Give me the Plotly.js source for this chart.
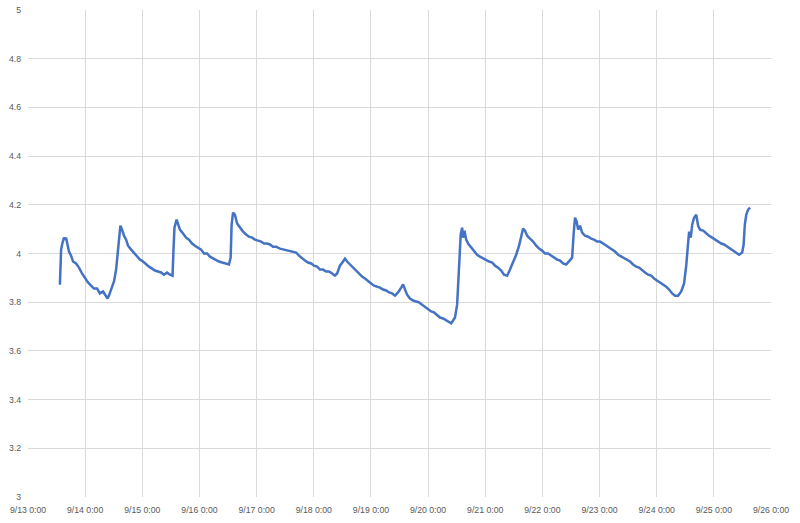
<!DOCTYPE html>
<html>
<head>
<meta charset="utf-8">
<script src="https://cdn.plot.ly/plotly-3.0.1.min.js"></script>
<style>html,body{margin:0;padding:0;background:#fff;}#chart{width:800px;height:523px;}</style>
</head>
<body>
<div id="chart"></div>
<script>
// Hours elapsed since 9/13 0:00 for each reading
const hoursSinceStart = [
13.4,13.6,13.9,14.3,14.7,15.1,15.5,16.0,16.4,17.2,18.1,18.9,20.2,21.4,22.7,23.9,25.2,26.5,27.7,29.0,
30.2,31.5,32.8,33.4,34.0,34.9,36.1,37.0,37.6,38.2,38.8,39.5,40.3,41.2,42.0,43.3,44.5,45.8,47.0,48.3,
49.6,50.8,52.1,53.3,54.6,55.9,57.1,58.4,59.6,60.7,61.1,61.5,62.4,63.0,63.8,65.1,66.4,67.6,68.9,70.1,
71.4,72.7,73.9,75.2,76.4,77.7,79.0,80.2,81.5,82.7,84.4,85.1,85.5,86.1,86.9,87.8,89.0,90.3,91.6,92.8,
94.1,95.3,96.6,97.9,99.1,100.4,101.6,102.9,104.2,105.8,107.5,109.2,110.9,112.6,113.8,115.1,116.3,117.6,118.9,120.1,
121.4,122.6,123.9,125.2,126.4,127.7,128.9,129.8,131.0,132.3,133.1,134.0,135.2,136.5,137.8,139.0,140.3,141.5,142.8,144.1,
145.3,146.6,147.8,149.1,150.4,151.6,152.9,154.1,155.4,156.7,157.5,158.3,159.2,160.4,161.7,163.0,164.2,165.5,166.7,168.0,
169.3,170.5,171.8,173.0,174.3,175.6,176.8,177.7,178.5,179.3,180.2,180.8,181.2,181.7,182.3,182.7,183.3,184.0,184.8,186.1,
187.3,188.6,189.8,191.1,192.4,193.6,194.9,196.1,197.4,198.7,199.9,201.2,202.4,203.7,205.0,206.2,207.1,207.9,208.7,209.6,
210.8,212.1,213.4,214.6,215.9,217.1,218.4,219.7,220.9,222.2,223.4,224.7,226.0,227.2,228.5,229.1,229.7,230.4,231.0,231.8,
232.7,233.9,235.2,236.5,237.7,239.0,240.2,241.5,242.8,244.0,245.3,246.5,247.8,249.1,250.3,251.6,252.8,254.1,255.4,256.6,
257.9,259.1,260.4,261.7,262.9,264.2,265.4,266.7,268.0,269.2,270.5,271.7,273.0,274.3,275.5,276.4,277.0,277.6,278.3,278.9,
279.7,280.6,281.4,282.2,283.5,284.8,286.0,287.3,288.5,289.8,291.1,292.3,293.6,294.8,296.1,297.4,298.6,299.9,300.5,301.0,
301.6,302.4,303.2
];
// Measured values
const readings = [
3.872,3.967,4.016,4.036,4.053,4.065,4.057,4.065,4.045,4.008,3.991,3.967,3.959,3.942,3.918,3.901,3.881,3.868,3.856,3.856,
3.836,3.844,3.823,3.815,3.827,3.852,3.885,3.934,3.995,4.073,4.114,4.098,4.073,4.057,4.032,4.016,4.004,3.987,3.975,3.967,
3.955,3.946,3.938,3.930,3.926,3.922,3.913,3.922,3.913,3.909,4.016,4.106,4.139,4.123,4.098,4.082,4.065,4.057,4.041,4.032,
4.024,4.016,4.000,4.000,3.987,3.979,3.971,3.967,3.963,3.959,3.955,3.983,4.118,4.168,4.159,4.123,4.106,4.090,4.078,4.069,
4.065,4.057,4.053,4.049,4.041,4.041,4.037,4.028,4.028,4.020,4.016,4.012,4.008,4.004,3.991,3.979,3.971,3.963,3.959,3.950,
3.946,3.934,3.934,3.926,3.926,3.918,3.909,3.918,3.950,3.967,3.979,3.967,3.955,3.942,3.930,3.918,3.905,3.897,3.885,3.877,
3.868,3.864,3.860,3.852,3.848,3.840,3.836,3.827,3.840,3.860,3.873,3.852,3.831,3.815,3.807,3.803,3.799,3.790,3.782,3.774,
3.762,3.758,3.745,3.737,3.733,3.725,3.721,3.713,3.725,3.737,3.790,3.893,3.995,4.078,4.106,4.065,4.094,4.057,4.041,4.024,
4.008,3.995,3.987,3.979,3.971,3.967,3.963,3.950,3.942,3.930,3.913,3.909,3.934,3.963,3.995,4.032,4.065,4.102,4.094,4.073,
4.061,4.049,4.032,4.020,4.012,4.000,4.000,3.991,3.983,3.975,3.971,3.959,3.955,3.967,3.983,4.078,4.147,4.131,4.098,4.114,
4.086,4.073,4.069,4.061,4.057,4.049,4.049,4.041,4.032,4.024,4.016,4.008,3.995,3.987,3.983,3.975,3.967,3.955,3.946,3.942,
3.930,3.922,3.913,3.909,3.897,3.889,3.881,3.873,3.864,3.852,3.836,3.827,3.827,3.844,3.877,3.950,4.036,4.090,4.065,4.118,
4.147,4.159,4.114,4.098,4.094,4.082,4.073,4.065,4.057,4.049,4.041,4.037,4.028,4.020,4.012,4.004,3.995,4.004,4.036,4.118,
4.159,4.180,4.188
];
const startDate = "2023-09-13T00:00:00Z";
const xRange = ["2023-09-13 00:00", "2023-09-26 00:00"];
const yTickValues = [3, 3.2, 3.4, 3.6, 3.8, 4, 4.2, 4.4, 4.6, 4.8, 5];

const base = Date.parse(startDate);
const times = hoursSinceStart.map(h =>
  new Date(base + h * 3600000).toISOString().slice(0, 19).replace('T', ' '));

const trace = {
  x: times, y: readings, type: 'scatter', mode: 'lines',
  line: {color: '#4472C4', width: 2.5}, hoverinfo: 'skip'
};

const tickFont = {family: '"Liberation Sans", Arial, sans-serif', size: 8.7, color: '#595959'};
const layout = {
  width: 800, height: 523,
  margin: {l: 28, r: 29, t: 10, b: 26},
  paper_bgcolor: '#ffffff', plot_bgcolor: '#ffffff',
  showlegend: false,
  xaxis: {
    type: 'date', range: xRange, dtick: 86400000, tick0: xRange[0],
    tickformat: '%-m/%-d %-H:%M', showgrid: true, gridcolor: '#d9d9d9', gridwidth: 1,
    zeroline: false, showline: false, ticks: '', tickfont: tickFont, ticklabelstandoff: 6,
    fixedrange: true
  },
  yaxis: {
    range: [3, 5], tickmode: 'array', tickvals: yTickValues,
    ticktext: yTickValues.map(v => String(v)),
    showgrid: true, gridcolor: '#d9d9d9', gridwidth: 1,
    zeroline: false, showline: false, ticks: '', tickfont: tickFont, ticklabelstandoff: 6,
    fixedrange: true
  }
};
Plotly.newPlot('chart', [trace], layout, {staticPlot: true, displayModeBar: false});
</script>
</body>
</html>
